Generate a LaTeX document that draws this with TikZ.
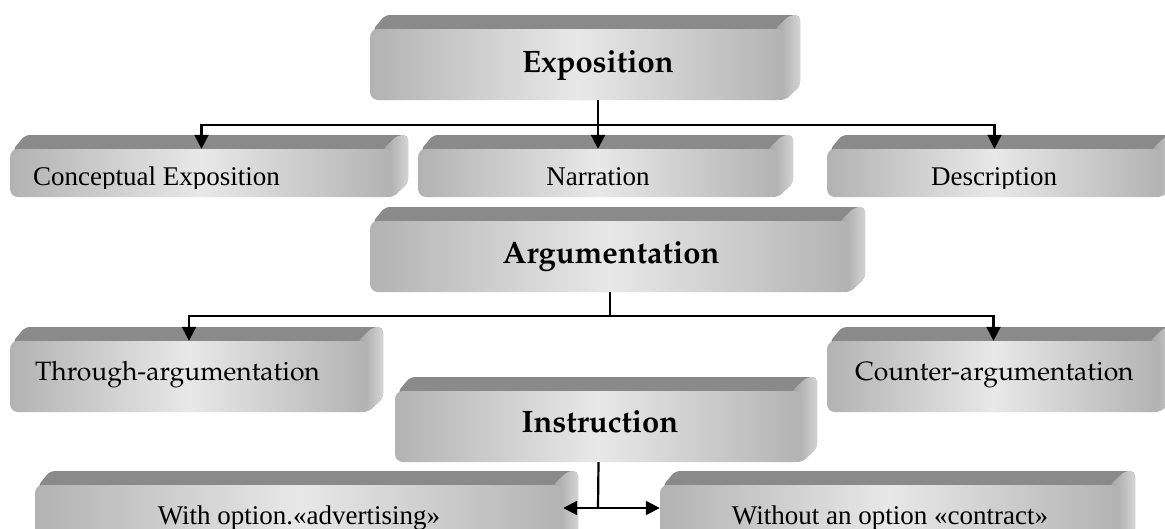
\documentclass[tikz,border=0pt]{standalone}
\usepackage[T1]{fontenc}
\usepackage{fontspec}
\setmainfont{Liberation Serif}
\usetikzlibrary{arrows.meta,fit}
\newcommand\palfont{\fontencoding{T1}\fontfamily{ppl}\selectfont}

\definecolor{fedge}{gray}{0.70}
\definecolor{fmid}{gray}{0.91}
\definecolor{topgray}{gray}{0.54}
\definecolor{sidedark}{gray}{0.64}
\definecolor{sidelight}{gray}{0.83}

\tikzset{
  x=1pt, y=-1pt,
  frontface/.style={left color=fedge, right color=fedge, middle color=fmid, rounded corners=8pt},
  topface/.style={fill=topgray, rounded corners=5pt},
  sideface/.style={left color=sidedark, right color=sidelight, rounded corners=5pt},
  bus/.style={line width=2.2pt},
  conn/.style={line width=2.2pt, -{Triangle[length=14pt,width=14pt]}},
  headtext/.style={font=\palfont\bfseries\fontsize{31}{36}\selectfont, inner sep=0pt, anchor=base},
  subtext/.style={font=\fontsize{27}{31}\selectfont, inner sep=0pt, anchor=base},
  paltext/.style={font=\palfont\fontsize{26.5}{30}\selectfont, inner sep=0pt, anchor=base west},
}

% extruded box: name, left, top, right, bottom (front face)
\newcommand\solidbox[5]{%
  \fill[topface] (#2+2,#3+2) -- (#2+15,#3-14) -- (#4+15,#3-14) -- (#4+15,#5-14) -- (#4,#5) -- cycle;
  \shade[sideface] (#4-10,#3) -- (#4+5,#3-14) -- (#4+15,#3-14) -- (#4+15,#5-14) -- (#4,#5) -- (#4-10,#5) -- cycle;
  \shade[frontface] (#2,#3) rectangle (#4,#5);
  \path (#2,#3) coordinate (#1-nw) (#4,#5) coordinate (#1-se);
  \node[fit=(#1-nw)(#1-se), inner sep=0pt] (#1) {};
}

\begin{document}
\begin{tikzpicture}
\useasboundingbox (0,0) rectangle (1165,528);
\clip (0,0) rectangle (1165,528);
\fill[white] (0,0) rectangle (1165,528);

% boxes
\solidbox{expo}{370}{29}{785}{100}
\solidbox{concept}{10}{149}{393}{197}
\solidbox{narr}{418}{149}{778}{197}
\solidbox{descr}{827}{149}{1162}{197}
\solidbox{argu}{370}{221}{850}{292}
\solidbox{through}{10}{341}{368}{412}
\solidbox{counter}{827}{341}{1160}{412}
\solidbox{instr}{395}{391}{802}{462}
\solidbox{with}{35}{485}{563}{550}
\solidbox{without}{660}{485}{1120}{550}

% labels
\node[headtext] (expo-t) at (598,72) {Exposition};
\node[headtext] (argu-t) at (611,263) {Argumentation};
\node[headtext] (instr-t) at (600,432) {Instruction};

\begin{scope}
  \clip (0,140) rectangle (1165,188);
  \node[subtext, anchor=base west] (concept-t) at (33,185) {Conceptual Exposition};
  \node[subtext] (narr-t) at (598,185) {Narration};
  \node[subtext] (descr-t) at (994,185) {Description};
\end{scope}

\node[paltext] (through-t) at (35,380) {Through-argumentation};
\node[paltext] (counter-t) at (855,380) {Counter-argumentation};

\node[subtext] (with-t) at (299,524) {With option.«advertising»};
\node[subtext] (without-t) at (890,524) {Without an option «contract»};

% connectors
\coordinate (bus1) at (598,125);
\coordinate (bus2) at (610,316);
\coordinate (bus3) at (598,508);

\draw[conn] (bus1 |- expo.south) -- (narr.north);
\draw[conn] (bus1) -| (concept.north);
\draw[conn] (bus1) -| (descr.north);

\draw[bus] (argu.south) -- (bus2);
\draw[conn] (bus2) -| (through.north);
\draw[conn] (bus2) -| (counter.north);

\draw[bus] (instr.south) -- (bus3);
\draw[conn] (bus3) -- (with.east |- bus3);
\draw[conn] (bus3) -- (without.west |- bus3);
\end{tikzpicture}
\end{document}
